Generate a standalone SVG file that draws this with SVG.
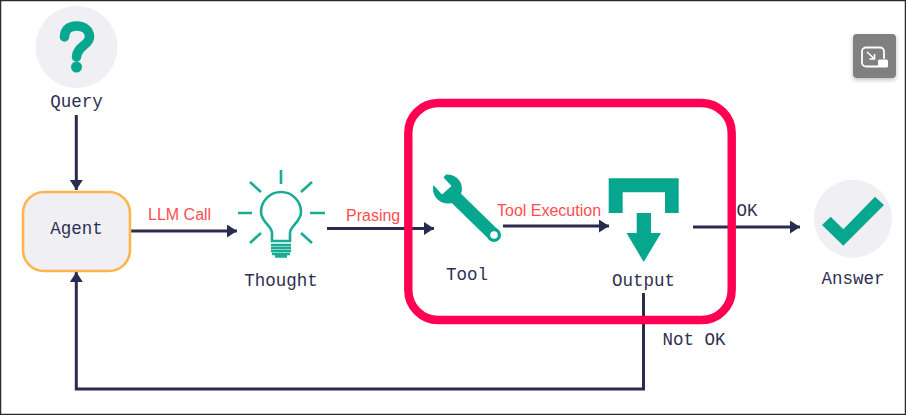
<svg xmlns="http://www.w3.org/2000/svg" width="906" height="415" viewBox="0 0 906 415">
<style>
.lbl{font-family:"Liberation Mono",monospace;font-size:17.5px;fill:#2f3052;text-anchor:middle}
.red{font-family:"Liberation Sans",Arial,sans-serif;font-size:16px;fill:#ff4d4d}
.edge{fill:none;stroke:#2a2b50;stroke-width:3;marker-end:url(#arrow)}
.teal{fill:#07a78f}
.ray{fill:none;stroke:#19ab94;stroke-width:2.6}
</style>
<defs>
<marker id="arrow" markerUnits="userSpaceOnUse" markerWidth="12" markerHeight="14" refX="10" refY="6.5" orient="auto"><path d="M0 0L10 6.5L0 13Z" fill="#2a2b50"/></marker>
<filter id="sh" x="-20%" y="-20%" width="140%" height="150%"><feDropShadow dx="0" dy="2" stdDeviation="2" flood-color="#000" flood-opacity=".25"/></filter>
</defs>
<rect x="0" y="0" width="906" height="415" fill="#fff"/>
<rect x="0.5" y="0.5" width="905" height="414" fill="none" stroke="#2b2b2b" stroke-width="1.5"/>
<g id="connectors">
<path class="edge" d="M76.300 115V190"/>
<path class="edge" d="M131 231H237"/>
<path class="edge" d="M327 228.500H434"/>
<path class="edge" d="M503 226H609"/>
<path class="edge" d="M693 227H800"/>
<path class="edge" d="M643.500 293V389H76.300V272"/>
</g>
<g id="highlight"><rect x="408.300" y="103" width="323.400" height="217" rx="30" fill="none" stroke="#ff0052" stroke-width="8.400"/></g>
<g id="query">
<circle cx="76.500" cy="47" r="41" fill="#f0f0f4"/>
<path d="M64.500 37C64.500 29 70 26 76.500 26C84 26 89.500 30 89.500 37C89.500 45 77 46 76.500 57" fill="none" stroke="#07a78f" stroke-width="9.500" stroke-linecap="round"/>
<circle class="teal" cx="76.500" cy="67" r="5.500"/>
<text class="lbl" x="76.500" y="107">Query</text>
</g>
<g id="agent">
<rect x="23" y="192" width="107" height="79" rx="21" fill="#f0f0f4" stroke="#fdb54e" stroke-width="2.600"/>
<text class="lbl" x="76.500" y="234">Agent</text>
</g>
<g id="thought">
<path class="ray" d="M281 170V184M238 213H252M310 213H325M250 182L261 192M312 182L301 192M250 243L261 233M312 243L301 233"/>
<path class="ray" d="M272 241V233C272 226 261 222 261 212C261 201 270 192 281 192C292 192 301 201 301 212C301 222 290 226 290 233V241Z"/>
<path class="ray" stroke-width="1.800" d="M271 245H291M271 248H291M271 251H291M272 254H290M275 256.500H287"/>
<text class="lbl" x="281" y="286">Thought</text>
</g>
<g id="tool">
<path class="teal" d="M446 174.500A14.500 14.500 0 1 1 433.500 185L442 194.500L451.500 186L443.500 177.500Z"/>
<path d="M455 197L494 235" fill="none" stroke="#07a78f" stroke-width="13"/>
<circle class="teal" cx="494" cy="235" r="7"/>
<circle cx="494" cy="235" r="3.800" fill="#fff"/>
<text class="lbl" x="467" y="280">Tool</text>
</g>
<g id="output">
<path class="teal" d="M608.700 178.300H678.700V213H665V192.300H622.700V213H608.700Z"/>
<path class="teal" d="M636.700 213H651V233H661L643.700 262L626.500 233H636.700Z"/>
<text class="lbl" x="643.500" y="286">Output</text>
</g>
<g id="answer">
<circle cx="853" cy="218.700" r="39" fill="#f0f0f4"/>
<path class="teal" d="M822 225L830.700 216.700L843.300 229.300L875 196.700L884 205L843.300 245.700Z"/>
<text class="lbl" x="853" y="284">Answer</text>
</g>
<g id="edge-labels">
<text class="red" x="148" y="220">LLM Call</text>
<text class="red" x="346" y="221">Prasing</text>
<text class="red" x="497" y="216">Tool Execution</text>
<text class="lbl" x="747" y="216">OK</text>
<text class="lbl" x="694" y="345">Not OK</text>
</g>
<g id="pip-button">
<rect x="853" y="34" width="43" height="44" rx="4" fill="#808080" filter="url(#sh)"/>
<path d="M884 58V51.500A4 4 0 0 0 880 47.500H866A4 4 0 0 0 862 51.500V62.500A4 4 0 0 0 866 66.500H878" fill="none" stroke="#fff" stroke-width="1.800" stroke-linecap="round"/>
<rect x="878" y="59.500" width="10" height="8" rx="1.500" fill="#fff"/>
<path d="M867 52L874 58.500M874.500 54V59H869.500" fill="none" stroke="#fff" stroke-width="1.600"/>
</g>
</svg>
